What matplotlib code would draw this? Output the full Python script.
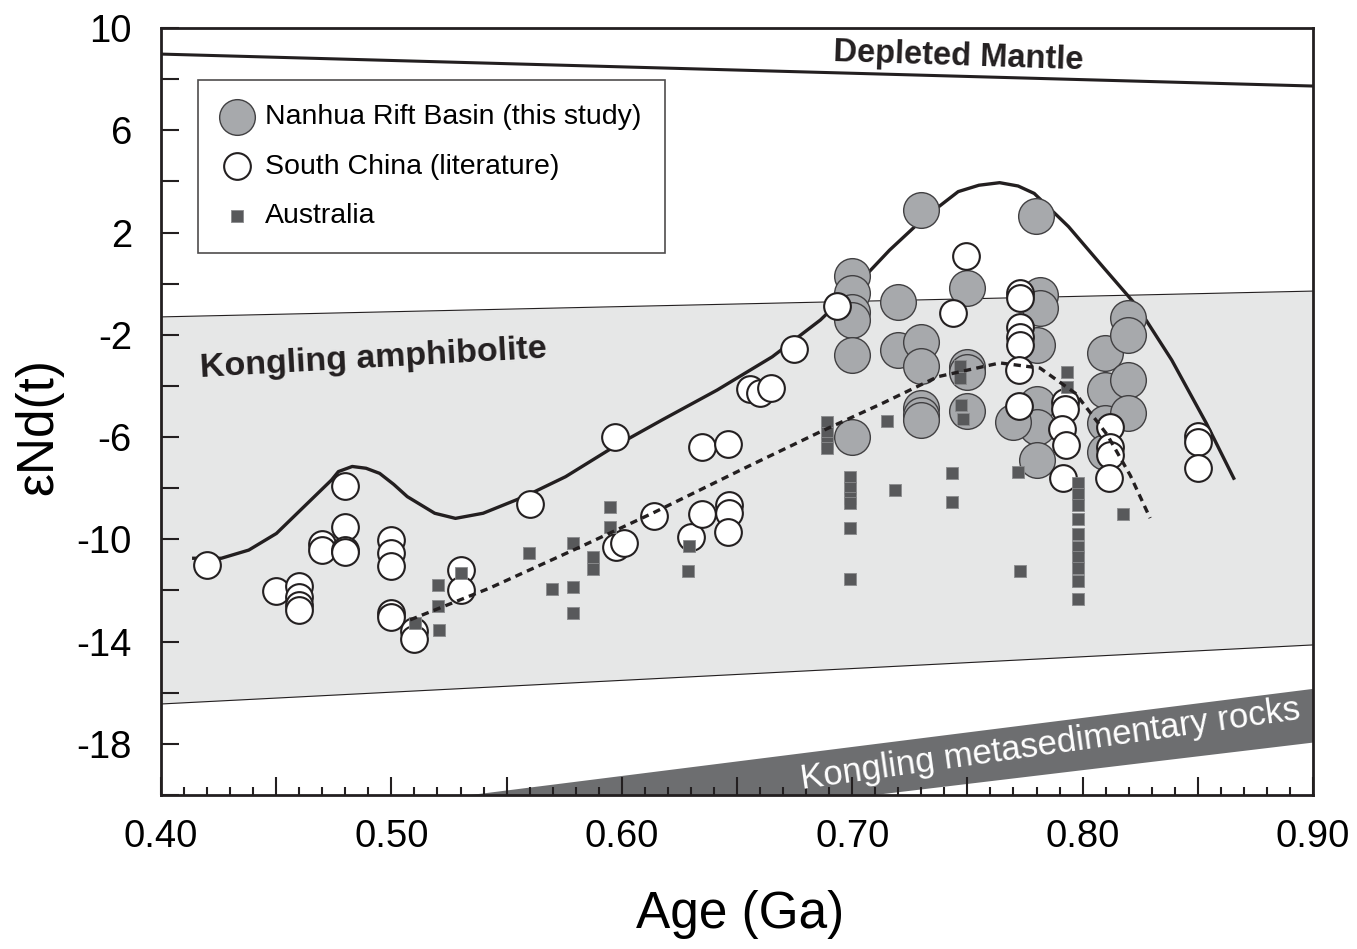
#
# Nd isotope evolution: Nanhua Rift Basin vs South China and Australia
#

import numpy as np
import matplotlib.pyplot as plt
from matplotlib.ticker import FixedLocator, FuncFormatter

plt.rcParams["font.family"] = ["Liberation Sans", "DejaVu Sans"]
plt.rcParams["axes.unicode_minus"] = False

# Nanhua Rift Basin (this study)
nh_age = [0.7297, 0.7798, 0.700, 0.700, 0.700, 0.700, 0.700, 0.700,
          0.720, 0.720, 0.730, 0.730, 0.730, 0.730, 0.730,
          0.750, 0.750, 0.750, 0.750, 0.7815, 0.7815, 0.780, 0.780,
          0.780, 0.780, 0.770, 0.8097, 0.8097, 0.8097, 0.8097,
          0.8198, 0.8198, 0.8198, 0.8198]
nh_end = [2.88, 2.66, 0.31, -0.37, -1.10, -1.42, -2.79, -5.98,
          -0.70, -2.59, -2.29, -3.21, -4.85, -5.14, -5.33,
          -0.18, -3.25, -3.45, -4.98, -0.44, -0.95, -2.40, -4.72,
          -5.59, -6.90, -5.40, -2.73, -4.16, -5.46, -6.57,
          -1.36, -2.01, -3.77, -5.07]

# South China (literature)
sc_age = [0.420, 0.450, 0.460, 0.460, 0.460, 0.460, 0.470, 0.470,
          0.480, 0.480, 0.480, 0.480, 0.500, 0.500, 0.500, 0.500, 0.500,
          0.510, 0.510, 0.530, 0.530, 0.560, 0.597, 0.5975, 0.601,
          0.614, 0.630, 0.635, 0.635, 0.646, 0.6467, 0.6467, 0.646,
          0.6556, 0.660, 0.6646, 0.6749, 0.6935, 0.7436, 0.7493,
          0.7728, 0.7728, 0.7728, 0.7728, 0.7728, 0.7725, 0.7725,
          0.7924, 0.7924, 0.7909, 0.7928, 0.7916,
          0.8119, 0.8119, 0.8119, 0.8115, 0.8502, 0.8502, 0.8502]
sc_end = [-11.00, -12.01, -11.82, -12.24, -12.57, -12.76, -10.18, -10.40,
          -7.90, -9.50, -10.42, -10.50, -10.03, -10.52, -11.04, -12.89, -13.05,
          -13.60, -13.91, -11.20, -11.98, -8.62, -5.98, -10.29, -10.16,
          -9.07, -9.90, -9.01, -6.40, -6.27, -8.66, -8.96, -9.72,
          -4.13, -4.28, -4.07, -2.56, -0.86, -1.13, 1.08,
          -0.38, -0.58, -1.68, -2.07, -2.40, -3.38, -4.78,
          -4.62, -4.90, -5.70, -6.31, -7.61,
          -5.59, -6.37, -6.70, -7.61, -5.95, -6.20, -7.22]

# Australia
au_age = [0.5102, 0.5201, 0.5201, 0.5205, 0.530, 0.5599, 0.5696,
          0.579, 0.579, 0.579, 0.5876, 0.5876, 0.5949, 0.5949,
          0.6292, 0.6289, 0.6889, 0.6889, 0.6892, 0.6892,
          0.699, 0.699, 0.699, 0.699, 0.699, 0.699, 0.715, 0.7186,
          0.7433, 0.7433, 0.7468, 0.7468, 0.7473, 0.7479, 0.7721, 0.7728,
          0.7931, 0.7931, 0.7981, 0.7981, 0.7981, 0.7979, 0.7979, 0.7979,
          0.7979, 0.7979, 0.7979, 0.7981, 0.8174]
au_end = [-13.26, -11.79, -12.60, -13.55, -11.30, -10.52, -11.93,
          -10.16, -11.87, -12.87, -10.70, -11.15, -8.72, -9.53,
          -10.25, -11.22, -5.40, -5.85, -6.24, -6.44,
          -7.55, -8.00, -8.39, -8.59, -9.57, -11.55, -5.36, -8.07,
          -7.42, -8.53, -3.22, -3.70, -4.75, -5.29, -7.38, -11.22,
          -3.44, -4.03, -7.81, -8.23, -8.66, -9.22, -9.80, -10.31,
          -10.68, -11.13, -11.63, -12.33, -9.01]

# upper envelope (solid) and Australia trend (dashed)
env_age = [0.4142, 0.4262, 0.4381, 0.4501, 0.4621, 0.4740, 0.4770, 0.4830,
           0.4890, 0.4949, 0.5010, 0.5069, 0.5188, 0.5278, 0.5398, 0.5577,
           0.5756, 0.5966, 0.6175, 0.6414, 0.6653, 0.6862, 0.7012, 0.7162,
           0.7311, 0.7460, 0.7550, 0.7640, 0.7720, 0.7790, 0.7939, 0.8088,
           0.8238, 0.8387, 0.8537, 0.8656]
env_end = [-10.74, -10.74, -10.42, -9.77, -8.72, -7.68, -7.35, -7.15,
           -7.22, -7.42, -7.85, -8.33, -8.98, -9.18, -8.98, -8.33,
           -7.55, -6.38, -5.33, -4.16, -2.86, -1.42, -0.12, 1.31,
           2.56, 3.60, 3.85, 3.95, 3.82, 3.53, 2.23, 0.66,
           -0.90, -2.99, -5.46, -7.61]
trend_age = [0.5081, 0.5428, 0.5819, 0.6135, 0.6543, 0.6860, 0.7131, 0.7371,
             0.7641, 0.7815, 0.7969, 0.8106, 0.8207, 0.8293]
trend_end = [-13.15, -11.90, -10.30, -8.97, -7.17, -5.80, -4.68, -3.64,
             -3.10, -3.30, -4.29, -5.90, -7.50, -9.17]

# reference fields
dm_age = [0.40, 0.90]
dm_end = [8.98, 7.73]
amph_age = [0.40, 0.90]
amph_top = [-1.30, -0.29]
amph_bot = [-16.44, -14.13]
meta_top_age = [0.5345, 0.90]
meta_top_end = [-20.0, -15.85]
meta_bot_age = [0.7099, 0.90]
meta_bot_end = [-20.0, -17.95]

fig = plt.figure(figsize=(13.57, 9.49), dpi=100)
ax = fig.add_axes([161 / 1357, 1 - 795 / 949, 1152 / 1357, 767 / 949])

ax.fill_between(amph_age, amph_bot, amph_top, color="#e6e7e7", lw=0, zorder=0)
ax.plot(amph_age, amph_top, color="#231f20", lw=0.8, zorder=1)
ax.plot(amph_age, amph_bot, color="#231f20", lw=0.8, zorder=1)
ax.fill([meta_top_age[0], meta_top_age[1], meta_bot_age[1], meta_bot_age[0]],
        [meta_top_end[0], meta_top_end[1], meta_bot_end[1], meta_bot_end[0]],
        color="#6d6e70", lw=0, zorder=1)
ax.plot(dm_age, dm_end, color="#231f20", lw=2.2, zorder=2)

ax.plot(env_age, env_end, color="#231f20", lw=2.4, zorder=2,
        solid_joinstyle="round")

nh = ax.scatter(nh_age, nh_end, s=660, facecolor="#a7a9ac", edgecolor="#414042",
                linewidth=1.0, zorder=3, label="Nanhua Rift Basin (this study)")
sc = ax.scatter(sc_age, sc_end, s=370, facecolor="white", edgecolor="#231f20",
                linewidth=1.5, zorder=4, label="South China (literature)")
au = ax.scatter(au_age, au_end, s=75, marker="s", facecolor="#58595b",
                edgecolor="#8a8b8d", linewidth=0.6, zorder=5, label="Australia")

ax.plot(trend_age, trend_end, color="#231f20", lw=2.4, ls=(0, (2.2, 1.6)),
        zorder=6)

ax.text(0.7459, 8.88, "Depleted Mantle", fontsize=23.5, fontweight="bold",
        rotation=-1.9, ha="center", va="center", color="#231f20", zorder=7)
ax.text(0.4924, -2.95, "Kongling amphibolite", fontsize=24.5, fontweight="bold",
        rotation=3.2, ha="center", va="center", color="#231f20", zorder=7)
ax.text(0.7859, -18.04, "Kongling metasedimentary rocks", fontsize=25,
        rotation=8.0, ha="center", va="center", color="white", zorder=7)

ax.set_xlim(0.40, 0.90)
ax.set_ylim(-20, 10)

xmaj = [0.40 + 0.05 * i for i in range(11)]
ax.xaxis.set_major_locator(FixedLocator(xmaj))
ax.xaxis.set_minor_locator(FixedLocator([0.40 + 0.01 * i for i in range(51)]))
ax.xaxis.set_major_formatter(FuncFormatter(
    lambda v, p: "%.2f" % v if round(v * 100) % 10 == 0 else ""))
ax.yaxis.set_major_locator(FixedLocator(list(range(-20, 11, 2))))
ax.yaxis.set_major_formatter(FuncFormatter(
    lambda v, p: "%d" % v if int(round(v)) in (10, 6, 2, -2, -6, -10, -14, -18) else ""))

ax.tick_params(axis="both", which="major", direction="in", length=13, width=1.5,
               labelsize=27.5, color="#231f20")
ax.tick_params(axis="x", which="major", pad=17)
ax.tick_params(axis="y", which="major", pad=21)
ax.tick_params(axis="x", which="minor", direction="in", length=6, width=1.5,
               color="#231f20")
ax.tick_params(axis="y", which="minor", left=False)
for sp in ax.spines.values():
    sp.set_linewidth(2.0)
    sp.set_color("#231f20")
    sp.set_zorder(10)

ax.set_xlabel("Age (Ga)", fontsize=37)
ax.set_ylabel("εNd(t)", fontsize=37)
ax.xaxis.set_label_coords(0.503, -0.124)
ax.yaxis.set_label_coords(-0.085, 0.48)

leg = ax.legend(handles=[nh, sc, au], loc="upper left",
                bbox_to_anchor=(0.0321, 0.932), borderaxespad=0,
                fontsize=20.5, frameon=True, fancybox=False, scatterpoints=1,
                handletextpad=0.46, labelspacing=0.82, borderpad=0.85,
                handlelength=1.04)
leg.get_frame().set_edgecolor("#231f20")
leg.get_frame().set_linewidth(1.2)
leg.set_zorder(8)

fig.savefig("out.png", dpi=100)
